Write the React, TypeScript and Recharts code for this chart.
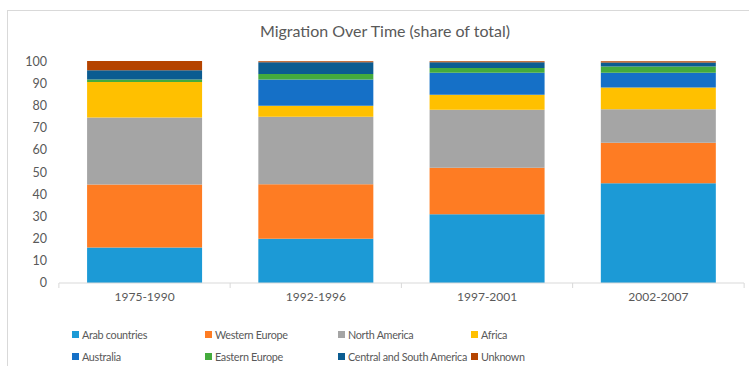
import { BarChart, Bar, XAxis, YAxis } from "recharts"

const periods = ["1975-1990", "1992-1996", "1997-2001", "2002-2007"]

const arabCountries = [16, 20, 31, 45]
const westernEurope = [28.4, 24.5, 21, 18.2]
const northAmerica = [30.2, 30.5, 26.1, 15.2]
const africa = [16, 4.9, 6.8, 9.8]
const australia = [0, 11.9, 9.9, 6.6]
const easternEurope = [1.2, 2.4, 2.2, 2.8]
const centralSouthAmerica = [4.1, 5.3, 2.5, 1.8]
const unknown = [4.2, 0.5, 0.5, 0.6]

const yTicks = [0, 10, 20, 30, 40, 50, 60, 70, 80, 90, 100]

const series = [
  { key: "arab", name: "Arab countries", values: arabCountries, color: "#1c9ad6" },
  { key: "westEu", name: "Western Europe", values: westernEurope, color: "#fe7c23" },
  { key: "northAm", name: "North America", values: northAmerica, color: "#a5a5a5" },
  { key: "africa", name: "Africa", values: africa, color: "#ffc000" },
  { key: "australia", name: "Australia", values: australia, color: "#1570c7" },
  { key: "eastEu", name: "Eastern Europe", values: easternEurope, color: "#44ab3d" },
  { key: "csAm", name: "Central and South America", values: centralSouthAmerica, color: "#0b5c91" },
  { key: "unknown", name: "Unknown", values: unknown, color: "#b54400" },
]

const data = periods.map((period, i) => {
  const row: Record<string, string | number> = { period }
  series.forEach((s) => {
    row[s.key] = s.values[i]
  })
  return row
})

const font = "Lato, 'Open Sans', sans-serif"
const textColor = "#595959"

// category label plus the small boundary ticks below the axis line
function PeriodTick(props: any) {
  const { x, y, payload, index, visibleTicksCount } = props
  const band = 171.5
  const left = x - band / 2
  return (
    <g>
      <line x1={left} y1={y - 8} x2={left} y2={y - 3} stroke="#d9d9d9" />
      {index === visibleTicksCount - 1 && (
        <line x1={left + band} y1={y - 8} x2={left + band} y2={y - 3} stroke="#d9d9d9" />
      )}
      <text x={x} y={y + 10} textAnchor="middle" fill={textColor} fontSize={12} fontFamily={font}>
        {payload.value}
      </text>
    </g>
  )
}

export default function App() {
  return (
    <div
      style={{
        position: "absolute",
        left: 0,
        top: 0,
        width: 749,
        height: 366,
        background: "#fff",
        fontFamily: font,
      }}
    >
      <div
        style={{
          position: "absolute",
          left: 7,
          top: 10,
          width: 760,
          height: 380,
          border: "1px solid #d9d9d9",
        }}
      />
      <div
        style={{
          position: "absolute",
          left: 0,
          width: 770,
          top: 21,
          textAlign: "center",
          fontSize: 16,
          color: textColor,
        }}
      >
        Migration Over Time (share of total)
      </div>
      <BarChart
        width={749}
        height={366}
        data={data}
        barCategoryGap="16.4%"
        margin={{ top: 61, right: 5, left: 14, bottom: 53 }}
        style={{ position: "absolute", left: 0, top: 0 }}
      >
        <XAxis
          dataKey="period"
          height={30}
          axisLine={{ stroke: "#d9d9d9" }}
          tickLine={false}
          tick={<PeriodTick />}
          interval={0}
        />
        <YAxis
          width={45}
          domain={[0, 100]}
          ticks={yTicks}
          axisLine={false}
          tickLine={false}
          tickSize={0}
          tickMargin={12}
          tick={{ fill: textColor, fontSize: 12.5, fontFamily: font }}
        />
        {series.map((s) => (
          <Bar
            key={s.key}
            dataKey={s.key}
            name={s.name}
            stackId="share"
            fill={s.color}
            isAnimationActive={false}
          />
        ))}
      </BarChart>
      <div
        style={{
          position: "absolute",
          left: 72,
          top: 328,
          display: "grid",
          gridTemplateColumns: "133px 133px 133px 133px",
          rowGap: 9,
          fontSize: 10.8,
          letterSpacing: -0.3,
          color: textColor,
        }}
      >
        {series.map((s) => (
          <div key={s.key} style={{ display: "flex", alignItems: "center", whiteSpace: "nowrap" }}>
            <span
              style={{
                display: "inline-block",
                flexShrink: 0,
                width: 7,
                height: 7,
                background: s.color,
                marginRight: 3,
              }}
            />
            {s.name}
          </div>
        ))}
      </div>
    </div>
  )
}
